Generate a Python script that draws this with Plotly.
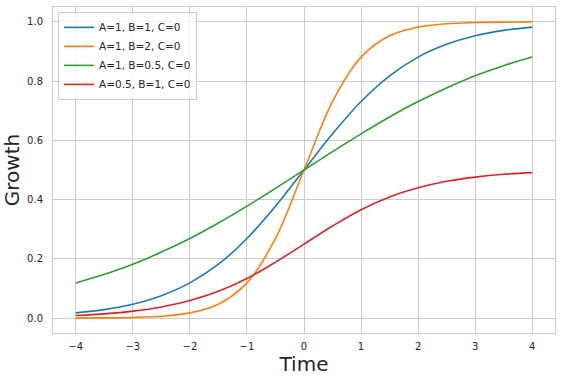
import plotly.graph_objects as go

time = [-4.0, -3.5, -3.0, -2.5, -2.0, -1.5, -1.0, -0.5, 0.0, 0.5, 1.0, 1.5, 2.0, 2.5, 3.0, 3.5, 4.0]
growth_a1_b1 = [0.018, 0.029, 0.047, 0.076, 0.119, 0.182, 0.269, 0.378, 0.5, 0.622, 0.731, 0.818, 0.881, 0.924, 0.953, 0.971, 0.982]
growth_a1_b2 = [0.0003, 0.0009, 0.0025, 0.0067, 0.018, 0.047, 0.119, 0.269, 0.5, 0.731, 0.881, 0.953, 0.982, 0.9933, 0.9975, 0.9991, 0.9997]
growth_a1_b05 = [0.119, 0.148, 0.182, 0.223, 0.269, 0.321, 0.378, 0.438, 0.5, 0.562, 0.622, 0.679, 0.731, 0.777, 0.818, 0.852, 0.881]
growth_a05_b1 = [0.009, 0.0145, 0.0237, 0.038, 0.0596, 0.091, 0.134, 0.189, 0.25, 0.311, 0.366, 0.409, 0.440, 0.462, 0.476, 0.4855, 0.491]

series_names = ["A=1, B=1, C=0", "A=1, B=2, C=0", "A=1, B=0.5, C=0", "A=0.5, B=1, C=0"]
series_values = [growth_a1_b1, growth_a1_b2, growth_a1_b05, growth_a05_b1]
colors = ["#1f77b4", "#ff7f0e", "#2ca02c", "#d62728"]

fig = go.Figure()
for name, vals, c in zip(series_names, series_values, colors):
    fig.add_trace(go.Scatter(x=time, y=vals, mode="lines", name=name,
                             line=dict(color=c, width=1.6, shape="spline", smoothing=1.0)))

font_family = "DejaVu Sans"
axis_common = dict(
    showgrid=True, gridcolor="#cccccc", gridwidth=1,
    zeroline=False, showline=True, linecolor="#cccccc", linewidth=1, mirror=True,
    ticks="", tickfont=dict(family=font_family, size=10, color="#262626"),
)

fig.update_layout(
    width=562, height=380,
    margin=dict(l=53, r=7, t=7, b=47),
    paper_bgcolor="white", plot_bgcolor="white",
    font=dict(family=font_family, color="#262626"),
    xaxis=dict(range=[-4.4, 4.4], tickvals=[-4, -3, -2, -1, 0, 1, 2, 3, 4],
               ticktext=["\u22124", "\u22123", "\u22122", "\u22121", "0", "1", "2", "3", "4"],
               title=dict(text="Time", font=dict(family=font_family, size=20, color="#262626"), standoff=5),
               ticklabelstandoff=4, automargin=False,
               **axis_common),
    yaxis=dict(range=[-0.05, 1.05], tickvals=[0, 0.2, 0.4, 0.6, 0.8, 1.0],
               ticktext=["0.0", "0.2", "0.4", "0.6", "0.8", "1.0"],
               title=dict(text="Growth", font=dict(family=font_family, size=20, color="#262626"), standoff=5),
               ticklabelstandoff=7, automargin=True,
               **axis_common),
    legend=dict(x=0.01, y=0.985, xanchor="left", yanchor="top",
                bgcolor="rgba(255,255,255,0.8)", bordercolor="#cccccc", borderwidth=1,
                font=dict(family=font_family, size=10.5, color="#262626"),
                tracegroupgap=0, itemwidth=30),
    showlegend=True,
)

fig.write_html("out.html", config={"displayModeBar": False},
               post_script="document.body.style.margin='0';document.body.style.padding='0';")
